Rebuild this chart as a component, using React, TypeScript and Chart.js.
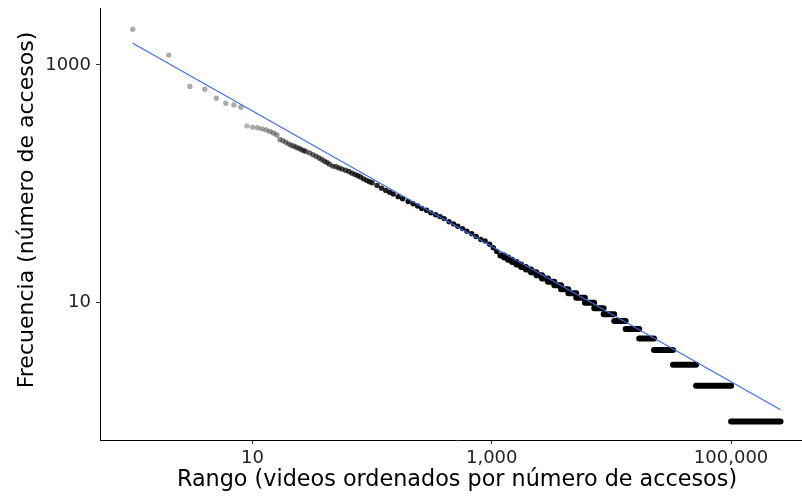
import React, { useEffect, useRef } from "react";
import { Chart, registerables } from "chart.js";
Chart.register(...registerables);

// Individual ranked videos (rank, number of accesses)
const pointRanks = [
  1, 2, 3, 4, 5, 6, 7, 8, 9, 10, 11, 12, 13, 14, 15, 16, 17, 18, 19, 20, 21, 22, 23, 24, 25, 26, 27, 28,
  30, 32, 34, 36, 38, 40, 42, 44, 47, 50, 53, 56, 60, 64, 68, 72, 76, 80, 85, 90, 95, 100,
  110, 120, 130, 140, 150, 165, 180, 200, 220, 240, 260, 285, 310, 340, 370, 400, 440, 480, 520,
  570, 620, 680, 740, 810, 880, 960, 1030, 1100,
];
const pointFreqs = [
  1995, 1210, 660, 625, 525, 476, 461, 441, 307, 300, 296, 290, 284, 276, 268, 258, 236, 230, 224, 217,
  211, 208, 204, 200, 197, 193, 190, 187,
  182, 176, 171, 165, 160, 155, 151, 146, 141, 139, 136, 133, 130, 127, 123, 120, 117, 114, 110, 107, 104, 102,
  97, 92, 88, 85, 82, 78, 75, 71, 68, 65, 62, 60, 57, 55, 53, 51, 48, 46, 44,
  42, 40, 38, 36, 34, 33, 31, 29, 27,
];

// Runs of videos sharing the same (low) access count: frequency, first rank, last rank
const stepFreqs = [25, 24, 23, 22, 21, 20, 19, 18, 17, 16, 15, 14, 13, 12, 11, 10, 9, 8, 7, 6, 5, 4, 3, 2, 1];
const stepStart = [1180, 1270, 1370, 1480, 1610, 1760, 1930, 2130, 2360, 2630, 2950, 3330, 3790, 4360, 5080, 6000, 7180, 8610, 10550, 13150, 17060, 22700, 32700, 51000, 100000];
const stepEnd = [1269, 1369, 1479, 1609, 1759, 1929, 2129, 2359, 2629, 2949, 3329, 3789, 4359, 5079, 5999, 7179, 8609, 10549, 13149, 17059, 22699, 32699, 50999, 99999, 259000];

// Fitted power-law line endpoints
const fitRanks = [1, 259000];
const fitFreqs = [1520, 1.26];

const xTickValues = [10, 1000, 100000];
const xTickLabels = ["10", "1,000", "100,000"];
const yTickValues = [10, 1000];
const yTickLabels = ["10", "1000"];

const xTitle = "Rango (videos ordenados por número de accesos)";
const yTitle = "\u00A0\u00A0\u00A0\u00A0Frecuencia (número de accesos)";

export default function App() {
  const ref = useRef<HTMLCanvasElement>(null);

  useEffect(() => {
    Chart.defaults.font.family = "'DejaVu Sans', sans-serif";
    const pts = pointRanks.map((r, i) => ({ x: r, y: pointFreqs[i] }));
    const steps: any[] = [];
    stepFreqs.forEach((f, i) => {
      steps.push({ x: stepStart[i], y: f }, { x: stepEnd[i], y: f }, { x: stepEnd[i], y: null });
    });
    const fit = fitRanks.map((r, i) => ({ x: r, y: fitFreqs[i] }));

    const chart = new Chart(ref.current as HTMLCanvasElement, {
      type: "scatter",
      data: {
        datasets: [
          {
            type: "line",
            data: fit,
            borderColor: "#3B6BE8",
            borderWidth: 1.1,
            pointRadius: 0,
            fill: false,
            order: 0,
          } as any,
          {
            type: "line",
            data: steps,
            borderColor: "#000000",
            borderWidth: 6,
            borderCapStyle: "round",
            pointRadius: 0,
            spanGaps: false,
            fill: false,
            order: 1,
          } as any,
          {
            type: "scatter",
            data: pts,
            pointRadius: 2.7,
            borderWidth: 0,
            backgroundColor: (c: any) => {
              const r = c.raw ? c.raw.x : 1;
              const l = Math.log10(r);
              const a = r < 9 ? 0.33 : Math.min(0.95, 0.3 + 0.5 * (l - 0.95));
              return `rgba(0,0,0,${a})`;
            },
            order: 2,
          } as any,
        ],
      },
      options: {
        animation: false,
        responsive: false,
        devicePixelRatio: 1,
        layout: { padding: { left: 0, right: 3, top: 8, bottom: 0 } },
        plugins: { legend: { display: false }, tooltip: { enabled: false } },
        scales: {
          x: {
            type: "logarithmic",
            position: "bottom",
            min: 0.5325,
            max: 493000,
            afterBuildTicks: (s: any) => {
              s.ticks = xTickValues.map((v) => ({ value: v }));
            },
            afterFit: (s: any) => {
              s.height = 58;
              s.paddingLeft = 0;
              s.paddingRight = 0;
            },
            ticks: {
              autoSkip: false,
              maxRotation: 0,
              padding: 4,
              color: "#222222",
              font: { size: 18 },
              callback: (v: any) => {
                const i = xTickValues.indexOf(Number(v));
                return i >= 0 ? xTickLabels[i] : "";
              },
            },
            grid: { display: true, drawOnChartArea: false, drawTicks: true, tickLength: 4, tickColor: "#333333" },
            border: { display: true, color: "#000000", width: 1 },
            title: { display: true, text: xTitle, color: "#000000", font: { size: 22.3 }, padding: { top: 0, bottom: 4 } },
          } as any,
          y: {
            type: "logarithmic",
            position: "left",
            min: 0.706,
            max: 3013,
            afterBuildTicks: (s: any) => {
              s.ticks = yTickValues.map((v) => ({ value: v }));
            },
            afterFit: (s: any) => {
              s.width = 100;
              s.paddingTop = 0;
              s.paddingBottom = 0;
            },
            ticks: {
              autoSkip: false,
              padding: 5,
              color: "#222222",
              font: { size: 18 },
              callback: (v: any) => {
                const i = yTickValues.indexOf(Number(v));
                return i >= 0 ? yTickLabels[i] : "";
              },
            },
            grid: { display: true, drawOnChartArea: false, drawTicks: true, tickLength: 4, tickColor: "#333333" },
            border: { display: true, color: "#000000", width: 1 },
            title: { display: true, text: yTitle, color: "#000000", font: { size: 22 }, padding: { top: 14, bottom: 0 } },
          } as any,
        },
      },
    });
    return () => chart.destroy();
  }, []);

  return (
    <div style={{ position: "fixed", left: 0, top: 0, width: 802, height: 498, overflow: "hidden", background: "#ffffff" }}>
      <canvas ref={ref} width={818} height={498} style={{ display: "block" }} />
    </div>
  );
}
